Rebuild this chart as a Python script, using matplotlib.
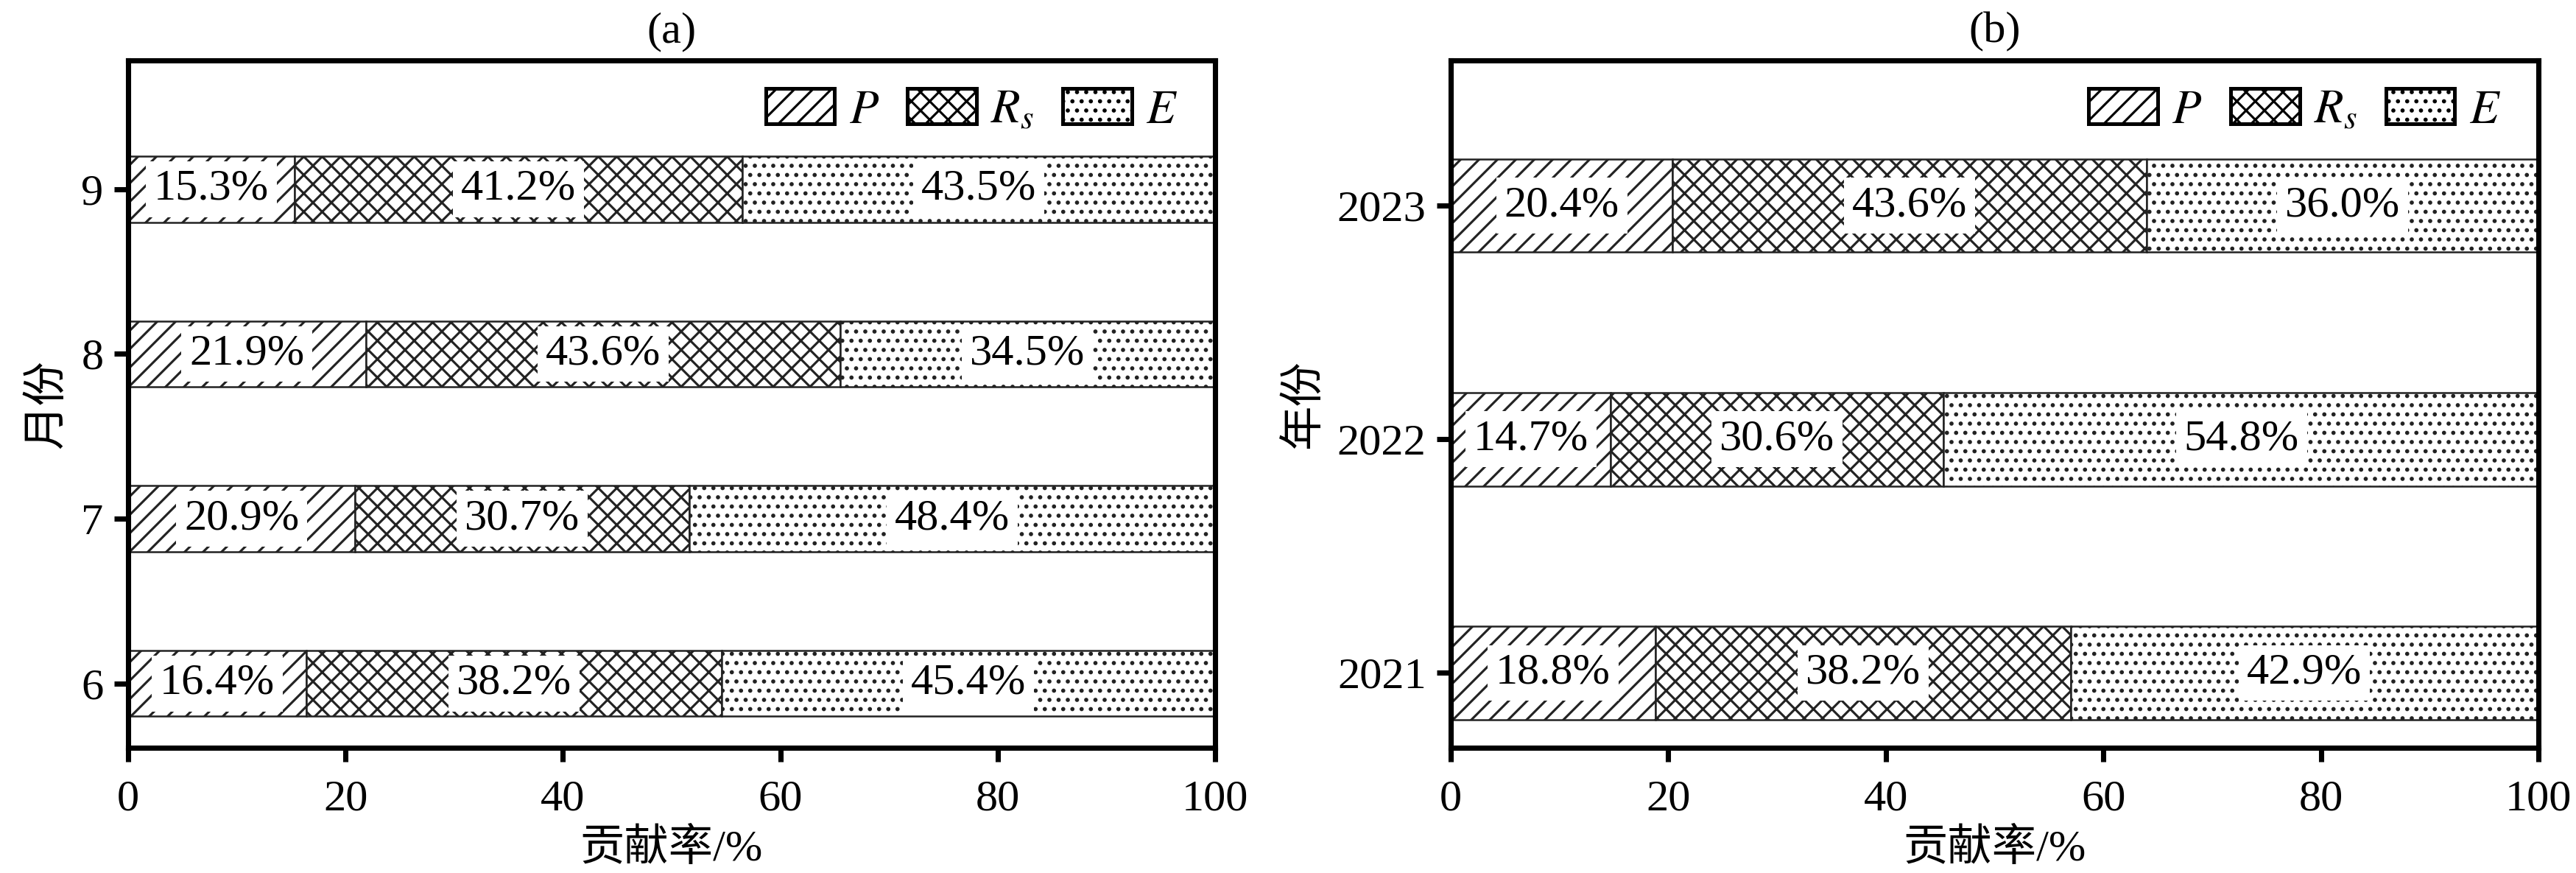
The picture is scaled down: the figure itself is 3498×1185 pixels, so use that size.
import matplotlib
matplotlib.use("Agg")
import matplotlib.pyplot as plt
import numpy as np
from matplotlib.patches import Patch

plt.rcParams['font.family'] = ['Liberation Serif', 'Noto Sans CJK SC']
plt.rcParams['mathtext.fontset'] = 'stix'
plt.rcParams['hatch.linewidth'] = 0.75
plt.rcParams['axes.linewidth'] = 1.7

# ---- data ----
months = ['6', '7', '8', '9']
month_P = [16.4, 20.9, 21.9, 15.3]
month_Rs = [38.2, 30.7, 43.6, 41.2]
month_E = [45.4, 48.4, 34.5, 43.5]

years = ['2021', '2022', '2023']
year_P = [18.8, 14.7, 20.4]
year_Rs = [38.2, 30.6, 43.6]
year_E = [42.9, 54.8, 36.0]

series_names = ['$P$', '$R_s$', '$E$']
hatches = ['////', 'xxxx', '....']
xticks = [0, 20, 40, 60, 80, 100]

FS = 14.5

fig = plt.figure(figsize=(11.66, 3.95), dpi=300)
ax_a = fig.add_axes([0.0497, 0.1435, 0.4220, 0.7870])
ax_b = fig.add_axes([0.5632, 0.1435, 0.4222, 0.7870])


def draw(ax, cats, P, Rs, E, ylim, ylabel, title):
    y = np.arange(len(cats))
    left = np.zeros(len(cats))
    for vals, h in zip([P, Rs, E], hatches):
        vals = np.array(vals)
        ax.barh(y, vals, left=left, height=0.4, color='white',
                edgecolor='#222222', linewidth=0.6, hatch=h)
        for yi, l, v in zip(y, left, vals):
            ax.text(l + v / 2, yi, f'{v:.1f}%', ha='center', va='center',
                    fontsize=FS,
                    bbox=dict(boxstyle='square,pad=0.18', fc='white', ec='none'))
        left = left + vals
    ax.set_xlim(0, 100)
    ax.set_ylim(*ylim)
    ax.set_yticks(y)
    ax.set_yticklabels(cats)
    ax.set_xticks(xticks)
    ax.tick_params(axis='both', which='major', labelsize=FS, direction='out',
                   length=4.5, width=1.7, top=False, right=False)
    ax.tick_params(axis='x', pad=6)
    ax.set_xlabel('贡献率/%', fontsize=FS, labelpad=3)
    ax.set_ylabel(ylabel, fontsize=FS, labelpad=4)
    ax.set_title(title, fontsize=FS, pad=6)
    handles = [Patch(facecolor='white', edgecolor='black', linewidth=1.2, hatch=h)
               for h in hatches]
    ax.legend(handles, series_names, loc='center', bbox_to_anchor=(0.776, 0.927),
              ncol=3, frameon=False, fontsize=FS + 1, handlelength=1.45,
              handleheight=0.75, handletextpad=0.3, columnspacing=0.6,
              borderaxespad=0)


draw(ax_a, months, month_P, month_Rs, month_E, (-0.39, 3.78), '月份', '(a)')
draw(ax_b, years, year_P, year_Rs, year_E, (-0.32, 2.62), '年份', '(b)')

fig.savefig('out.png', dpi=300)
